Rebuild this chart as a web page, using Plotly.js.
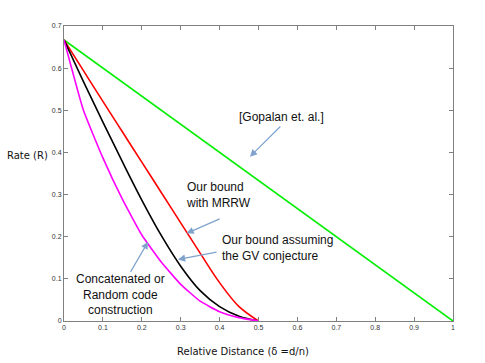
<!DOCTYPE html>
<html>
<head>
<meta charset="utf-8">
<script src="https://cdn.plot.ly/plotly-3.0.1.min.js"></script>
<style>
  html, body { margin: 0; padding: 0; background: #fff; }
</style>
</head>
<body>
<div id="plot" style="width:485px;height:363px;"></div>
<script>
// relative distance samples
const delta = [0, 0.05, 0.1, 0.15, 0.2, 0.25, 0.3, 0.35, 0.4, 0.45, 0.5];

// rate curves
const gopalanX = [0, 1];
const gopalanR = [0.667, 0];
const mrrwR = [0.667, 0.594, 0.521, 0.449, 0.377, 0.305, 0.233, 0.161, 0.091, 0.034, 0.0];
const gvR = [0.667, 0.568, 0.472, 0.378, 0.287, 0.203, 0.130, 0.072, 0.034, 0.011, 0.0];
const randomR = [0.667, 0.500, 0.387, 0.289, 0.204, 0.140, 0.087, 0.047, 0.022, 0.008, 0.0];

const xTicks = [0, 0.1, 0.2, 0.3, 0.4, 0.5, 0.6, 0.7, 0.8, 0.9, 1];
const yTicks = [0, 0.1, 0.2, 0.3, 0.4, 0.5, 0.6, 0.7];

const data = [
  { x: gopalanX, y: gopalanR, mode: 'lines', line: { color: '#00ee00', width: 1.6 } },
  { x: delta, y: mrrwR, mode: 'lines', line: { color: '#ff0000', width: 1.6, shape: 'spline', smoothing: 1 } },
  { x: delta, y: gvR, mode: 'lines', line: { color: '#000000', width: 1.6, shape: 'spline', smoothing: 1 } },
  { x: delta, y: randomR, mode: 'lines', line: { color: '#ff00ff', width: 1.6, shape: 'spline', smoothing: 0.4 } }
];

const arrowColor = '#7fa3cc';
const txtFont = { family: 'Liberation Sans, Arial, sans-serif', size: 12, color: '#111' };
const axFont = { family: 'DejaVu Sans, sans-serif', size: 10, color: '#111' };

function arrow(x, y, ax, ay) {
  return {
    x: x, y: y, ax: ax, ay: ay, xref: 'x', yref: 'y', axref: 'x', ayref: 'y',
    text: '', showarrow: true, arrowhead: 2, arrowsize: 1.2, arrowwidth: 1.2, arrowcolor: arrowColor
  };
}

const layout = {
  width: 485,
  height: 363,
  margin: { l: 64, r: 32, t: 26, b: 42 },
  paper_bgcolor: '#ffffff',
  plot_bgcolor: '#ffffff',
  showlegend: false,
  xaxis: {
    range: [0, 1],
    tickvals: xTicks,
    ticks: 'inside',
    ticklen: 4,
    tickcolor: '#808080',
    showline: true,
    linecolor: '#808080',
    linewidth: 1,
    mirror: 'allticks',
    showgrid: false,
    zeroline: false,
    tickfont: { family: 'Liberation Sans, Arial, sans-serif', size: 7, color: '#333' }
  },
  yaxis: {
    range: [0, 0.7],
    tickvals: yTicks,
    ticks: 'inside',
    ticklen: 4,
    tickcolor: '#808080',
    showline: true,
    linecolor: '#808080',
    linewidth: 1,
    mirror: 'allticks',
    showgrid: false,
    zeroline: false,
    tickfont: { family: 'Liberation Sans, Arial, sans-serif', size: 7, color: '#333' }
  },
  annotations: [
    { text: 'Rate (R)', xref: 'paper', yref: 'paper', x: -0.152, y: 0.56, xanchor: 'left', showarrow: false, font: axFont },
    { text: 'Relative Distance (δ =d/n)', xref: 'paper', yref: 'paper', x: 0.46, y: -0.105, yanchor: 'middle', showarrow: false, font: axFont },
    { text: '[Gopalan et. al.]', xref: 'x', yref: 'y', x: 0.558, y: 0.485, showarrow: false, font: txtFont },
    { text: 'Our bound<br>with MRRW', xref: 'x', yref: 'y', x: 0.308, y: 0.30, xanchor: 'left', align: 'left', showarrow: false, font: txtFont },
    { text: 'Our bound assuming<br>the GV conjecture', xref: 'x', yref: 'y', x: 0.4, y: 0.173, xanchor: 'left', align: 'left', showarrow: false, font: txtFont },
    { text: 'Concatenated or<br>Random code<br>construction', xref: 'x', yref: 'y', x: 0.144, y: 0.062, align: 'center', showarrow: false, font: txtFont },
    arrow(0.478, 0.39, 0.56, 0.465),
    arrow(0.315, 0.208, 0.404, 0.244),
    arrow(0.293, 0.146, 0.396, 0.164),
    arrow(0.216, 0.188, 0.169, 0.113)
  ]
};

Plotly.newPlot('plot', data, layout, { staticPlot: true });
</script>
</body>
</html>
